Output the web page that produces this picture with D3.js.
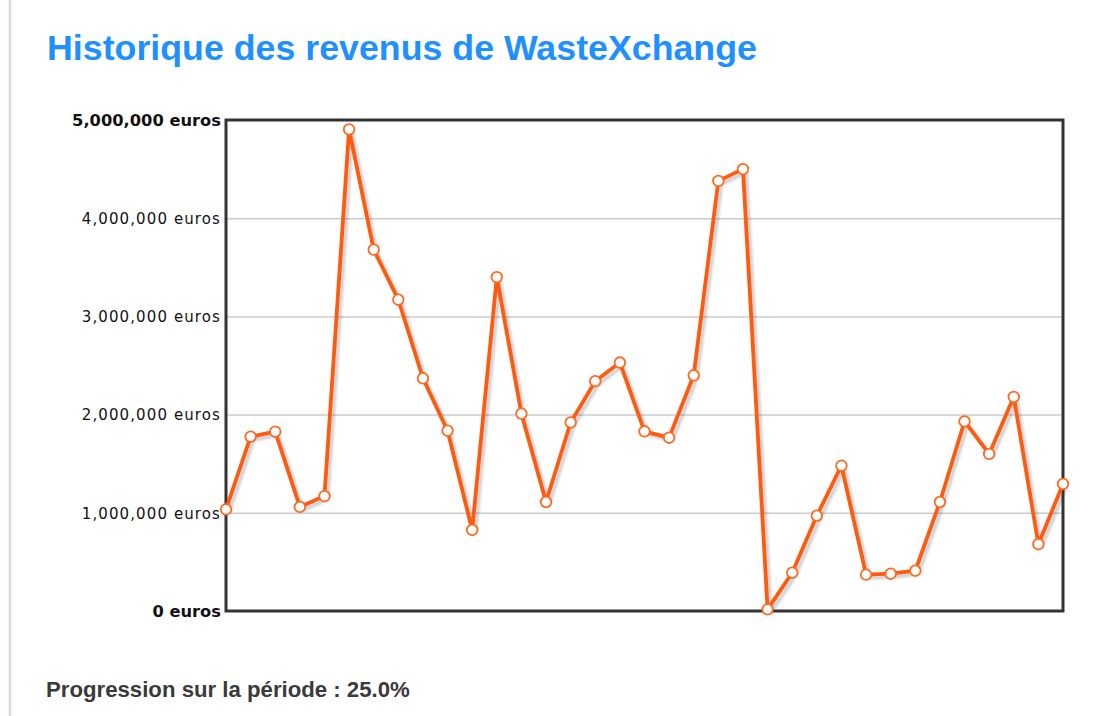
<!DOCTYPE html>
<html>
<head>
<meta charset="utf-8">
<script src="https://cdn.jsdelivr.net/npm/d3@7"></script>
<style>
  html, body { margin: 0; padding: 0; background: #fff; }
  svg { display: block; }
</style>
</head>
<body>
<svg id="chart" width="1102" height="716"></svg>
<script>
// ---- Data ----
const title = "Historique des revenus de WasteXchange";
const footer = "Progression sur la période : 25.0%";
const revenues = [
  1035000, 1775000, 1826000, 1060000, 1170000, 4905000, 3680000, 3170000,
  2370000, 1836000, 825000, 3400000, 2010000, 1110000, 1920000, 2340000,
  2530000, 1830000, 1765000, 2400000, 4380000, 4500000, 17000, 390000,
  970000, 1480000, 370000, 380000, 410000, 1110000, 1930000, 1600000,
  2180000, 680000, 1294000
];
const tickValues = [0, 1000000, 2000000, 3000000, 4000000, 5000000];
const tickLabels = ["0 euros", "1,000,000 euros", "2,000,000 euros",
                    "3,000,000 euros", "4,000,000 euros", "5,000,000 euros"];
const boldTicks = [0, 5000000];

// ---- Layout ----
const svg = d3.select("#chart");
const plot = { left: 226, right: 1063, top: 120, bottom: 611 };

const x = d3.scaleLinear().domain([0, revenues.length - 1]).range([plot.left, plot.right]);
const y = d3.scaleLinear().domain([0, 5000000]).range([plot.bottom, plot.top]);

// left page rule
svg.append("line").attr("x1", 10).attr("x2", 10).attr("y1", 0).attr("y2", 716)
  .attr("stroke", "#d3dbe8").attr("stroke-width", 2.5);

// title
const t = svg.append("text").text(title)
  .attr("x", 47).attr("y", 60)
  .attr("font-family", "'Liberation Sans', Arial, sans-serif")
  .attr("font-weight", "bold").attr("font-size", 100)
  .attr("fill", "#1e90ff");
const tw = t.node().getComputedTextLength();
t.attr("font-size", 100 * 710 / tw);

// gridlines
svg.append("g")
  .attr("transform", `translate(${plot.left},0)`)
  .call(d3.axisLeft(y).tickValues(tickValues.slice(1, -1))
        .tickSize(-(plot.right - plot.left)).tickFormat(""))
  .call(g => g.select(".domain").remove())
  .call(g => g.selectAll(".tick line").attr("stroke", "#cccccc").attr("stroke-width", 1.5));

// y-axis labels
const yAxis = svg.append("g")
  .attr("transform", `translate(${plot.left - 5},0)`)
  .call(d3.axisLeft(y).tickValues(tickValues).tickSize(0)
        .tickFormat((d, i) => tickLabels[i]));
yAxis.select(".domain").remove();
yAxis.selectAll(".tick text")
  .attr("x", 0)
  .attr("dy", "0.35em")
  .attr("fill", "#111")
  .attr("font-family", "'DejaVu Sans', Verdana, sans-serif")
  .attr("font-size", d => boldTicks.includes(d) ? 16.3 : 15)
  .attr("font-weight", d => boldTicks.includes(d) ? "bold" : "normal")
  .attr("letter-spacing", d => boldTicks.includes(d) ? 0 : 1.1);

// shadow filter
const defs = svg.append("defs");
const f = defs.append("filter").attr("id", "shadow").attr("x", "-5%").attr("y", "-5%")
  .attr("width", "110%").attr("height", "110%");
f.append("feGaussianBlur").attr("stdDeviation", 1.2);

const line = d3.line().x((d, i) => x(i)).y(d => y(d));

// line shadow
svg.append("path").datum(revenues)
  .attr("d", line)
  .attr("transform", "translate(3,3)")
  .attr("fill", "none").attr("stroke", "#000").attr("stroke-opacity", 0.18)
  .attr("stroke-width", 4).attr("stroke-linejoin", "round")
  .attr("filter", "url(#shadow)");

// plot frame
svg.append("rect")
  .attr("x", plot.left).attr("y", plot.top)
  .attr("width", plot.right - plot.left).attr("height", plot.bottom - plot.top)
  .attr("fill", "none").attr("stroke", "#333").attr("stroke-width", 3);

// main line
svg.append("path").datum(revenues)
  .attr("d", line)
  .attr("fill", "none").attr("stroke", "#ff5a0d")
  .attr("stroke-width", 3.8).attr("stroke-linejoin", "round");

// markers
svg.append("g").selectAll("circle").data(revenues).join("circle")
  .attr("cx", (d, i) => x(i)).attr("cy", d => y(d))
  .attr("r", 5.3)
  .attr("fill", "#fff").attr("stroke", "#ff6a22").attr("stroke-width", 1.8);

// footer
const ft = svg.append("text").text(footer)
  .attr("x", 46).attr("y", 697)
  .attr("font-family", "'Liberation Sans', Arial, sans-serif")
  .attr("font-weight", "bold").attr("font-size", 100)
  .attr("fill", "#3a3a3a");
const fw = ft.node().getComputedTextLength();
ft.attr("font-size", 100 * 364 / fw);
</script>
</body>
</html>
